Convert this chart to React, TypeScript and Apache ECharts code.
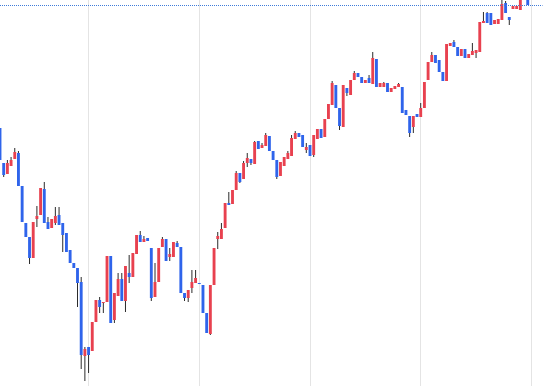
import React, { useEffect, useRef } from "react";
import * as echarts from "echarts";

// Candle values (price units)
const openV = [
  258, 223, 212, 220, 227, 233, 200, 163, 149, 128, 167, 171, 197, 164, 158, 163, 171, 163, 153, 136,
  123, 118, 104, 30, 39, 35, 64, 86, 83, 84, 130, 66, 90, 107, 85, 113, 109, 132, 151, 144,
  148, 138, 89, 104, 139, 147, 129, 129, 143, 139, 93, 88, 98, 103, 103, 101, 73, 52, 101, 147,
  147, 158, 183, 182, 196, 213, 207, 223, 227, 222, 245, 238, 240, 250, 235, 226, 210, 220, 227, 230,
  247, 253, 251, 236, 241, 231, 247, 257, 249, 267, 281, 301, 278, 259, 298, 291, 306, 313, 309, 303,
  308, 302, 327, 299, 299, 303, 294, 297, 299, 299, 276, 270, 259, 272, 269, 278, 306, 324, 331, 326,
  314, 305, 340, 344, 339, 330, 337, 328, 331, 333, 334, 363, 373, 373, 362, 362, 366, 383, 369, 377,
  377, 376, 388, 389,
];
const closeV = [
  226, 211, 223, 226, 234, 200, 164, 149, 128, 164, 170, 198, 163, 157, 167, 170, 161, 151, 134, 123,
  118, 103, 31, 37, 31, 64, 86, 79, 84, 130, 63, 93, 107, 85, 120, 109, 133, 151, 144, 147,
  145, 88, 104, 138, 147, 125, 132, 144, 139, 93, 88, 96, 104, 108, 102, 73, 53, 101, 138, 150,
  157, 183, 181, 196, 213, 204, 223, 228, 223, 244, 237, 241, 251, 235, 226, 209, 224, 229, 233, 248,
  253, 249, 239, 239, 230, 251, 257, 248, 267, 282, 303, 278, 260, 301, 293, 306, 313, 309, 303, 306,
  303, 328, 299, 303, 303, 294, 298, 300, 302, 273, 271, 253, 270, 269, 278, 304, 324, 331, 323, 314,
  305, 342, 343, 339, 330, 337, 328, 332, 335, 336, 364, 365, 363, 361, 366, 367, 382, 373, 366, 380,
  380, 388, 396, 381,
];
const lowV = [
  226, 209, 212, 220, 227, 200, 164, 149, 122, 128, 159, 171, 163, 157, 158, 161, 161, 134, 134, 123,
  118, 79, 17, 5, 13, 35, 64, 73, 73, 84, 63, 63, 90, 85, 74, 103, 109, 132, 144, 144,
  145, 85, 89, 104, 139, 125, 125, 129, 139, 93, 85, 84, 93, 103, 102, 73, 53, 51, 101, 137,
  147, 158, 181, 182, 196, 203, 207, 219, 221, 222, 237, 238, 240, 235, 226, 207, 210, 220, 227, 230,
  247, 249, 239, 233, 230, 229, 247, 248, 249, 267, 281, 278, 256, 259, 290, 291, 306, 309, 303, 303,
  303, 302, 299, 299, 299, 294, 294, 297, 299, 273, 271, 249, 253, 269, 269, 278, 306, 324, 323, 314,
  305, 305, 340, 339, 330, 330, 328, 328, 331, 328, 334, 363, 363, 361, 362, 362, 366, 373, 361, 377,
  377, 376, 387, 381,
];
const highV = [
  258, 223, 226, 229, 238, 235, 200, 163, 149, 164, 180, 198, 204, 169, 167, 179, 179, 163, 153, 136,
  123, 118, 109, 39, 39, 64, 86, 89, 84, 130, 130, 93, 113, 113, 120, 131, 133, 151, 155, 150,
  148, 138, 123, 138, 149, 147, 138, 144, 145, 139, 93, 96, 116, 116, 103, 101, 73, 101, 138, 154,
  163, 183, 194, 196, 215, 213, 225, 233, 227, 245, 245, 243, 253, 250, 235, 226, 224, 229, 235, 251,
  255, 253, 251, 243, 241, 251, 257, 257, 267, 282, 305, 301, 278, 301, 298, 306, 315, 313, 309, 306,
  311, 334, 327, 303, 304, 303, 298, 300, 303, 299, 276, 270, 270, 272, 283, 304, 324, 334, 331, 326,
  314, 342, 343, 346, 339, 337, 337, 332, 343, 336, 364, 374, 374, 373, 366, 367, 386, 385, 369, 380,
  380, 390, 398, 391,
];

const categoryCount = 148;
const categories: string[] = [];
for (let i = 0; i < categoryCount; i++) categories.push("D" + (i + 1));

const lastClose = closeV[closeV.length - 1];

const UP = "#e8414f";
const DOWN = "#2f64eb";
const WICK = "#2b2b2b";

export default function App() {
  const ref = useRef<HTMLDivElement>(null);
  useEffect(() => {
    if (!ref.current) return;
    const chart = echarts.init(ref.current, undefined, { renderer: "svg" });
    const data = openV.map((o, i) => [i, o, closeV[i], lowV[i], highV[i]]);
    chart.setOption({
      animation: false,
      grid: { left: -1.5, right: 1.5, top: 0, bottom: 0 },
      xAxis: {
        type: "category",
        data: categories,
        boundaryGap: false,
        axisLine: { show: false },
        axisTick: { show: false },
        axisLabel: { show: false },
        splitLine: {
          show: true,
          interval: (index: number) => index % 30 === 24,
          lineStyle: { color: "#e4e4e4", width: 1 },
        },
      },
      yAxis: {
        type: "value",
        min: 0,
        max: 386,
        axisLine: { show: false },
        axisTick: { show: false },
        axisLabel: { show: false },
        splitLine: { show: false },
      },
      series: [
        {
          type: "custom",
          clip: true,
          encode: { x: 0, y: [1, 2, 3, 4] },
          data,
          renderItem: (params: any, api: any) => {
            const idx = api.value(0);
            const o = api.value(1);
            const c = api.value(2);
            const l = api.value(3);
            const h = api.value(4);
            const pO = api.coord([idx, o]);
            const pC = api.coord([idx, c]);
            const pL = api.coord([idx, l]);
            const pH = api.coord([idx, h]);
            const band = api.size([1, 0])[0];
            const w = band * 0.78;
            const x = pO[0];
            const top = Math.min(pO[1], pC[1]);
            const hgt = Math.max(Math.abs(pO[1] - pC[1]), 1);
            const color = c >= o ? UP : DOWN;
            return {
              type: "group",
              children: [
                {
                  type: "line",
                  shape: { x1: x, y1: pH[1], x2: x, y2: pL[1] },
                  style: { stroke: WICK, lineWidth: 1 },
                },
                {
                  type: "rect",
                  shape: { x: x - w / 2, y: top, width: w, height: hgt },
                  style: { fill: color },
                },
              ],
            };
          },
          markLine: {
            silent: true,
            symbol: "none",
            label: { show: false },
            lineStyle: { color: "#3f7bd9", type: "dotted", width: 1 },
            data: [{ yAxis: lastClose }],
          },
        },
      ],
    });
    return () => chart.dispose();
  }, []);
  return (
    <div
      ref={ref}
      style={{ position: "fixed", left: 0, top: 0, width: 544, height: 386, background: "#fff" }}
    />
  );
}
